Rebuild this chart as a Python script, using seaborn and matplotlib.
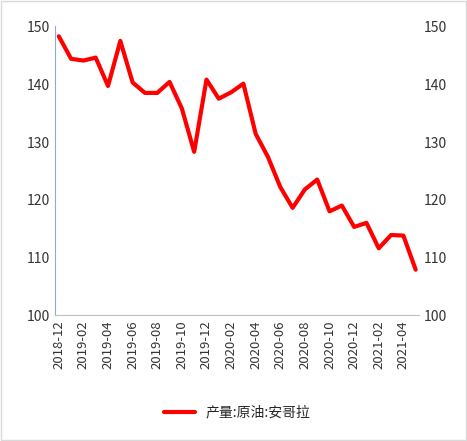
import matplotlib
matplotlib.use("Agg")
import matplotlib.pyplot as plt
import seaborn as sns
import pandas as pd

months = ["2018-12","2019-01","2019-02","2019-03","2019-04","2019-05","2019-06","2019-07","2019-08","2019-09",
          "2019-10","2019-11","2019-12","2020-01","2020-02","2020-03","2020-04","2020-05","2020-06","2020-07",
          "2020-08","2020-09","2020-10","2020-11","2020-12","2021-01","2021-02","2021-03","2021-04","2021-05"]
values = [148.3,144.4,144.1,144.6,139.7,147.5,140.3,138.5,138.5,140.4,
          135.8,128.3,140.8,137.5,138.6,140.1,131.4,127.4,122.2,118.6,
          121.8,123.5,118.0,119.0,115.3,116.0,111.6,113.9,113.8,107.9]
label = "产量:原油:安哥拉"

sns.set_style("white")
plt.rcParams['font.family'] = ['Noto Sans CJK SC', 'DejaVu Sans']

df = pd.DataFrame({"x": range(len(months)), "y": values})
fig = plt.figure(figsize=(4.67, 4.41), dpi=100)
ax = fig.add_axes([0.118, 0.285, 0.78, 0.655])
sns.lineplot(data=df, x="x", y="y", ax=ax, color="#FF0000", linewidth=3, label=label)
ax.set_ylim(100, 150)
ax.set_yticks(range(100, 151, 10))
ax.set_xlim(-0.3, len(months) - 0.7)
ticks = list(range(0, len(months), 2))
ax.set_xticks(ticks)
ax.set_xticklabels([months[i] for i in ticks], rotation=90, fontsize=9.5)
ax.tick_params(axis='y', labelsize=10, colors="#333333", length=0)
ax.tick_params(axis='x', colors="#333333", length=0)
ax.set_xlabel(""); ax.set_ylabel("")
for s in ["top", "right"]:
    ax.spines[s].set_visible(False)
ax.spines["left"].set_color("#8EA9DB")
ax.spines["bottom"].set_color("#BFBFBF")
ax2 = ax.twinx()
ax2.set_ylim(100, 150)
ax2.set_yticks(range(100, 151, 10))
ax2.tick_params(axis='y', labelsize=10, colors="#333333", length=0)
for s in ax2.spines.values():
    s.set_visible(False)
ax.legend(loc="upper center", bbox_to_anchor=(0.5, -0.27), frameon=False, fontsize=10, handlelength=2.2)
fig.patches.append(plt.Rectangle((0.002, 0.002), 0.995, 0.995, transform=fig.transFigure,
                                 fill=False, edgecolor="#D9D9D9", linewidth=1))
fig.savefig("out.png", dpi=100)
